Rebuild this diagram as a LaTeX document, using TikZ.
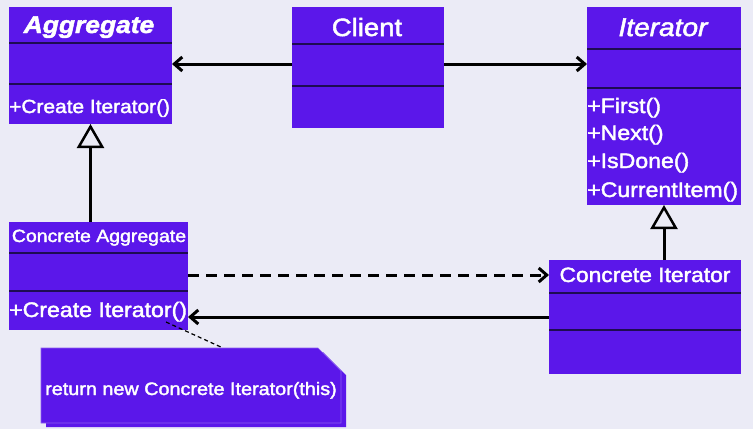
\documentclass[tikz,border=0pt]{standalone}
\usepackage{fontspec}
\setmainfont{Liberation Sans}[FakeStretch=1.1, FakeBold=2]
\usetikzlibrary{arrows.meta}
\definecolor{bg}{HTML}{EBEBF6}
\definecolor{clsfill}{HTML}{5B17EA}
\definecolor{divc}{HTML}{1E0C52}
\newcommand{\fs}[1]{\fontsize{#1}{#1}\selectfont}
\begin{document}
\begin{tikzpicture}[x=1pt,y=-1pt,
  classbox/.style={fill=clsfill, draw=none, anchor=north west, inner sep=0pt, outer sep=0pt},
  divline/.style={draw=divc, line width=2pt},
  ttl/.style={text=white, inner sep=0pt, anchor=base},
  meth/.style={text=white, inner sep=0pt, anchor=base west},
  assoc/.style={line width=3pt, -{Straight Barb[length=8pt,width=14pt,line width=3pt]}},
  dep/.style={assoc, dash pattern=on 11pt off 7pt},
  inherit/.style={line width=3pt, -{Triangle[open, length=24pt, width=27pt, line width=2.5pt, fill=bg]}},
  notelink/.style={line width=1.2pt, dash pattern=on 4pt off 3pt},
]
\useasboundingbox (0,0) rectangle (753,429);
\fill[bg] (0,0) rectangle (753,429);

% Aggregate
\node[classbox, minimum width=163pt, minimum height=117pt] (agg) at (9,7) {};
\draw[divline] (agg.west |- 0,43) -- (agg.east |- 0,43);
\draw[divline] (agg.west |- 0,84) -- (agg.east |- 0,84);
\node[ttl, font=\fs{24}\bfseries\itshape] (aggT) at (89,33) {Aggregate};
\node[meth, font=\fs{19}] (aggM) at (9,113) {+Create Iterator()};

% Client
\node[classbox, minimum width=152pt, minimum height=121pt] (client) at (292,7) {};
\draw[divline] (client.west |- 0,44) -- (client.east |- 0,44);
\draw[divline] (client.west |- 0,86) -- (client.east |- 0,86);
\node[ttl, font=\fs{25}] (clientT) at (367,36) {Client};

% Iterator
\node[classbox, minimum width=154pt, minimum height=198pt] (iter) at (587,7) {};
\draw[divline] (iter.west |- 0,49) -- (iter.east |- 0,49);
\draw[divline] (iter.west |- 0,88) -- (iter.east |- 0,88);
\node[ttl, font=\fs{25.5}\itshape] (iterT) at (663,36) {Iterator};
\node[meth, font=\fs{21}] (iterM1) at (587,113) {+First()};
\node[meth, font=\fs{21}] (iterM2) at (587,140) {+Next()};
\node[meth, font=\fs{21}] (iterM3) at (587,168) {+IsDone()};
\node[meth, font=\fs{21}] (iterM4) at (587,197) {+CurrentItem()};

% Concrete Aggregate
\node[classbox, minimum width=179pt, minimum height=108pt] (ca) at (9,222) {};
\draw[divline] (ca.west |- 0,253) -- (ca.east |- 0,253);
\draw[divline] (ca.west |- 0,291) -- (ca.east |- 0,291);
\node[ttl, font=\fs{17.7}] (caT) at (99,242) {Concrete Aggregate};
\node[meth, font=\fs{21}] (caM) at (9,317) {+Create Iterator()};

% Concrete Iterator
\node[classbox, minimum width=192pt, minimum height=114pt] (ci) at (549,260) {};
\draw[divline] (ci.west |- 0,293) -- (ci.east |- 0,293);
\draw[divline] (ci.west |- 0,330) -- (ci.east |- 0,330);
\node[ttl, font=\fs{20.7}] (ciT) at (645,282) {Concrete Iterator};

% Note
\node[inner sep=0pt, outer sep=0pt, anchor=north west, minimum width=300pt, minimum height=75pt] (note) at (41,348) {};
\fill[clsfill] (46,352) -- (323,352) -- (346,375) -- (346,427) -- (46,427) -- cycle;
\filldraw[fill=clsfill, draw=clsfill!70!white, line width=0.6pt]
  (note.north west) -- (318,348) -- (341,371) -- (note.south east) -- (note.south west) -- cycle;
\node[ttl, font=\fs{18}] (noteT) at (191,395) {return new Concrete Iterator(this)};

% Connectors
\draw[assoc] (client.west |- 0,64) -- (agg.east |- 0,64);
\draw[assoc] (client.east |- 0,64) -- (iter.west |- 0,64);
\draw[inherit] (agg.south |- ca.north) -- (agg.south);
\draw[inherit] (iter.south |- ci.north) -- (iter.south);
\draw[dep] (ca.east |- 0,275) -- (ci.west |- 0,275);
\draw[assoc] (ci.west |- 0,317) -- (ca.east |- 0,317);
\coordinate (caLink) at (166,322);
\draw[notelink] (caLink) -- (note.north -| 223,0);
\end{tikzpicture}
\end{document}
